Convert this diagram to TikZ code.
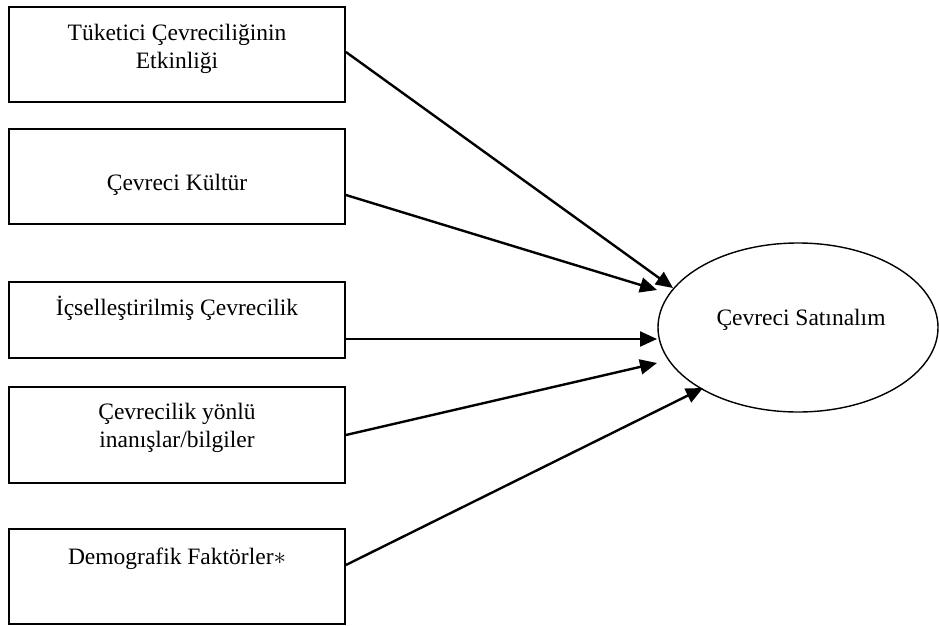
\documentclass[tikz,border=0pt]{standalone}
\usepackage{fontspec}
\setmainfont{Liberation Serif}
\usetikzlibrary{arrows.meta,shapes.geometric}
\begin{document}
\begin{tikzpicture}[x=1pt,y=-1pt,
  factor/.style={draw,line width=1.8pt,minimum width=336pt,inner sep=0pt},
  caption/.style={font=\fontsize{23.5}{27.6}\selectfont,align=center,inner sep=0pt,anchor=base},
  outcome/.style={draw,ellipse,line width=1.4pt,minimum width=280pt,minimum height=169pt,inner sep=0pt},
  link/.style={line width=2.4pt,-{Triangle[length=17pt,width=15pt]}}]
\useasboundingbox (0,0) rectangle (939,626);

% factor boxes
\node[factor,minimum height=95pt] (b1) at (177,54.5) {};
\node[factor,minimum height=95pt] (b2) at (177,176.5) {};
\node[factor,minimum height=76pt] (b3) at (177,320) {};
\node[factor,minimum height=96pt] (b4) at (177,435) {};
\node[factor,minimum height=95pt] (b5) at (177,576.5) {};

% box texts (base anchor sits on the last line)
\node[caption] (t1) at (177,68.3) {Tüketici Çevreciliğinin\\Etkinliği};
\node[caption] (t2) at (177,190) {Çevreci Kültür};
\node[caption] (t3) at (177,315) {İçselleştirilmiş Çevrecilik};
\node[caption] (t4) at (177,447) {Çevrecilik yönlü\\inanışlar/bilgiler};
\node[caption] (t5) at (177,564) {Demografik Faktörler$\ast$};

% outcome
\node[outcome] (sat) at (798,327.5) {};
\node[caption] (ts) at (801,325) {Çevreci Satınalım};

% arrow tips
\coordinate (e1) at (673,288);
\coordinate (e2) at (657,290);
\coordinate (e3) at (657,339);
\coordinate (e4) at (657,363);
\coordinate (e5) at (703,388);

\draw[link] ([yshift=2.5pt]b1.east) -- (e1);
\draw[link] ([yshift=-18.5pt]b2.east) -- (e2);
\draw[link] ([yshift=-19pt]b3.east) -- (e3);
\draw[link] (b4.east) -- (e4);
\draw[link] ([yshift=11.5pt]b5.east) -- (e5);
\end{tikzpicture}
\end{document}
